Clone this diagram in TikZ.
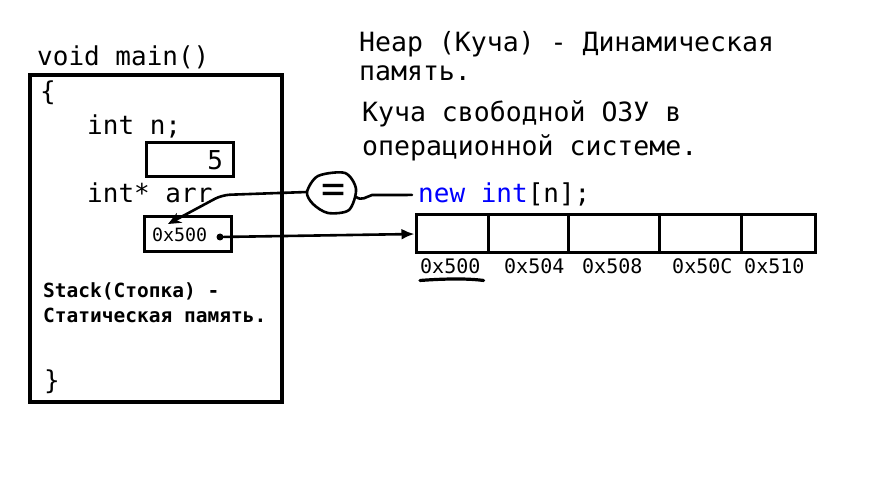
\documentclass[tikz,border=0pt]{standalone}
\usepackage{fontspec}
\setmonofont{DejaVu Sans Mono}
\usetikzlibrary{arrows.meta}
\colorlet{kwBlue}{blue}

\tikzset{
  code/.style={font=\ttfamily\fontsize{26}{29}\selectfont, inner sep=0pt, anchor=base west},
  box/.style={draw, line width=3pt, inner sep=0pt},
  cell/.style={draw, line width=3pt, minimum height=38, inner sep=0pt},
  addr/.style={font=\ttfamily\fontsize{20}{20}\selectfont, inner sep=0pt, anchor=base west},
  pen/.style={line width=2.6pt, line cap=round, line join=round},
}

\begin{document}
\begin{tikzpicture}[x=1pt, y=-1pt]
		\fill[white] (0,0) rectangle (872,478);
		\useasboundingbox (0,0) rectangle (872,478);
		%%%%%%%%%%%%% stack frame
		\node[code] (fn) at (37,66) {void main()};
		\node[draw, line width=4.5pt, minimum width=252, minimum height=327] (stack) at (156,238.5) {};
		\node[code] (lbrace) at (40,101) {\{};
		\node[code] (declN) at (87,135) {int n;};
		\node[box, minimum width=87, minimum height=34, text width=67pt, align=right,
		      font=\ttfamily\fontsize{26}{26}\selectfont] (nbox) at (189.5,160) {5};
		\node[code] (declArr) at (87,203) {int* arr};
		\node[box, minimum width=87, minimum height=35, text width=71pt, align=left,
		      font=\ttfamily\fontsize{18.3}{18.3}\selectfont] (arrbox) at (187.5,234.5) {0x500};
		\node[circle, fill, inner sep=0pt, minimum size=7pt] (ptr) at (220,237) {};
		\node[code, align=left, font=\ttfamily\bfseries\fontsize{19.5}{25}\selectfont] (stackinfo) at (43,322)
		      {Stack(Стопка) -\\Статическая память.};
		\node[code] (rbrace) at (44,389) {\}};
		%%%%%%%%%%%%% heap
		\node[code, align=left, font=\ttfamily\fontsize{26.5}{29}\selectfont] (heap) at (359,81)
		      {Неар (Куча) - Динамическая\\память.};
		\node[code, align=left, font=\ttfamily\fontsize{26.5}{34}\selectfont] (heapos) at (362,156)
		      {Куча свободной ОЗУ в\\операционной системе.};
		\node[code] (newexpr) at (418,203) {\textcolor{kwBlue}{new int}[n];};
		\foreach \n/\cx/\w in {0/452/72, 1/528/80, 2/613.5/91, 3/700/82, 4/778/74}
			\node[cell, minimum width=\w] (cell\n) at (\cx,234) {};
		\foreach \n/\lx/\lbl in {0/420/0x500, 1/504/0x504, 2/582/0x508, 3/672/0x50C, 4/744/0x510}
			\node[addr] (lbl\n) at (\lx,273) {\lbl};
		%%%%%%%%%%%%% the = mark
		\coordinate (eqL) at (307,192);
		\coordinate (eqR) at (356,197);
		\coordinate (tipA) at (168,224);
		\draw[pen] plot[smooth cycle, tension=0.5] coordinates
		      {(307,192) (318,176) (345,173) (356,189) (349,210) (328,213) (313,204)};
		\node[font=\ttfamily\fontsize{40}{40}\selectfont, inner sep=0pt] (eq) at (334,193) {=};
		%%%%%%%%%%%%%
		\draw[pen, rounded corners=8pt, -{Stealth[length=13pt, width=11pt]}] (eqL) -- (222,195) -- (tipA);
		\draw[pen] (eqR) .. controls (362,201) and (366,197) .. (372,195) -- ([xshift=-6pt]newexpr.west);
		\draw[pen, -{Latex[length=13pt, width=11pt]}] (ptr) -- (cell0.west);
		\draw[pen, line width=3.2pt] ([shift={(0,7)}]lbl0.south west) .. controls (440,279) and (465,278) .. ([shift={(3,7)}]lbl0.south east);
\end{tikzpicture}
\end{document}
